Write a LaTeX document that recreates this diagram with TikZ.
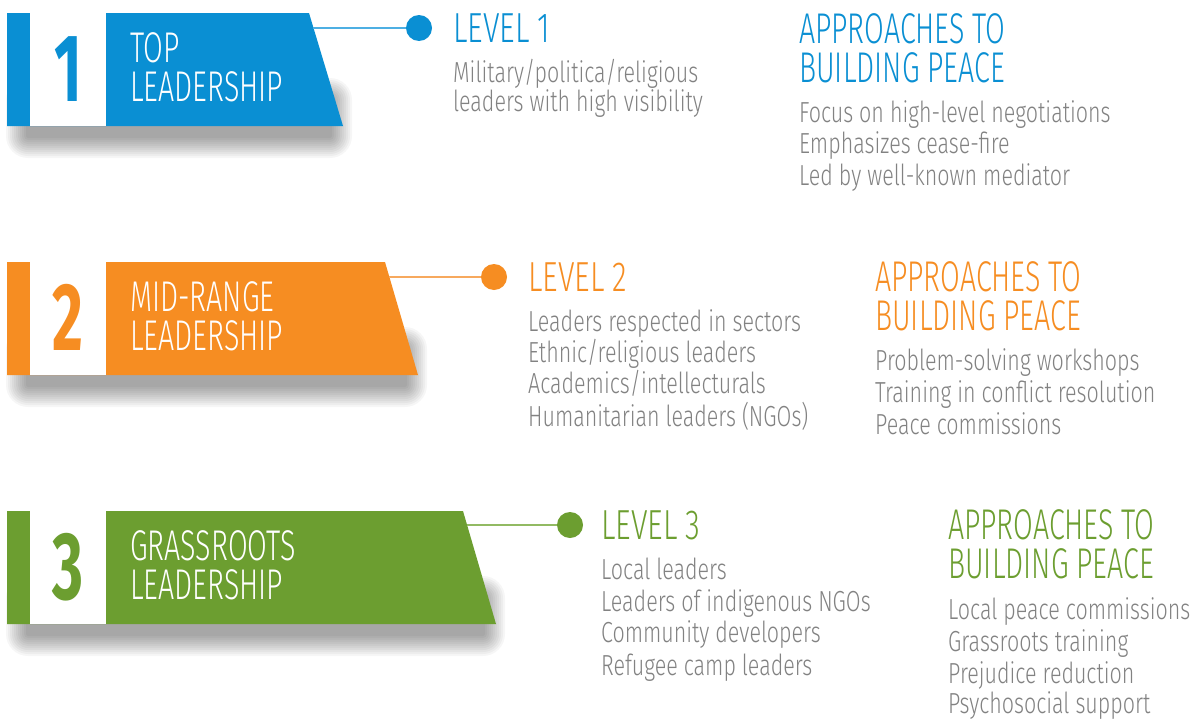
\documentclass[tikz,border=0pt]{standalone}
\usepackage{fontspec}
\setmainfont{Fira Sans Light}[FakeStretch=0.74]
\newfontfamily\capsfont{Fira Sans Light}[FakeStretch=0.665]
\newfontfamily\levelfont{Fira Sans Light}[FakeStretch=0.72]
\newfontfamily\numfont{Fira Sans}[FakeStretch=0.62]

\definecolor{topblue}{HTML}{0A8FD3}
\definecolor{toplink}{HTML}{4DAFE3}
\definecolor{midorange}{HTML}{F68D22}
\definecolor{midlink}{HTML}{F7A95E}
\definecolor{rootgreen}{HTML}{6C9E30}
\definecolor{rootlink}{HTML}{92BA63}
\definecolor{bodygrey}{HTML}{828282}

\begin{document}
\begin{tikzpicture}[x=1pt, y=-1pt,
    haze/.style={fill=black, opacity=0.035, rounded corners=#1},
    digit/.style={anchor=base, inner sep=0, font=\numfont\bfseries\fontsize{96}{96}\selectfont},
    bantext/.style={anchor=base west, inner sep=0, text height=30pt, text depth=2pt,
        text=white, font=\capsfont\fontsize{43}{43}\selectfont},
    level/.style={anchor=base west, inner sep=0, text height=30pt, text depth=2pt,
        font=\levelfont\fontsize{42}{42}\selectfont},
    heading/.style={anchor=base west, inner sep=0, text height=31pt, text depth=6pt,
        font=\capsfont\fontsize{43}{43}\selectfont},
    item/.style={anchor=base west, inner sep=0, text height=20pt, text depth=5pt,
        text=bodygrey, font=\fontsize{29}{29}\selectfont},
    dot/.style={circle, inner sep=0, minimum size=26pt},
    link/.style={line width=2pt}]
    \fill[white] (0,0) rectangle (1201,720);

    % soft shadows under the banners
    \foreach \r in {2,4,...,22} {
        \fill[haze=\r] (28-\r,100-\r) rectangle (330+\r,136+\r);
        \fill[haze=\r] (28-\r,349-\r) rectangle (405+\r,385+\r);
        \fill[haze=\r] (28-\r,598-\r) rectangle (483+\r,634+\r);
    }

    % top leadership
    \fill[topblue] (7,13) -- (309,13) -- (343,126) -- (7,126) -- cycle;
    \fill[white] (30,13) rectangle (106,126);
    \node[digit, text=topblue] (n1) at (68,101) {1};
    \node[bantext] (t1a) at (130,62) {TOP};
    \node[bantext] (t1b) at (130,101) {LEADERSHIP};
    \coordinate (e1) at (313,28);
    \node[dot, fill=topblue] (d1) at (419,28) {};
    \draw[link, toplink] (e1) -- (d1);
    \node[level, text=topblue] (l1) at (453,42) {LEVEL 1};
    \node[item, text height=, text depth=, font=\fontsize{29}{27}\selectfont] (l1a) at (453,82)
        {\begin{tabular}[t]{@{}l@{}}Military/politica/religious\\leaders with high visibility\end{tabular}};
    \node[heading, text=topblue] (a1) at (799,43) {APPROACHES TO};
    \node[heading, text=topblue] (a1b) at (799,82) {BUILDING PEACE};
    \node[item] (a1c) at (799,122) {Focus on high-level negotiations};
    \node[item] (a1d) at (799,153) {Emphasizes cease-fire};
    \node[item] (a1e) at (799,185) {Led by well-known mediator};

    % mid-range leadership
    \fill[midorange] (7,262) -- (385,262) -- (418,375) -- (7,375) -- cycle;
    \fill[white] (30,262) rectangle (106,375);
    \node[digit, text=midorange] (n2) at (68,350) {2};
    \node[bantext] (t2a) at (130,311) {MID-RANGE};
    \node[bantext] (t2b) at (130,350) {LEADERSHIP};
    \coordinate (e2) at (389,277);
    \node[dot, fill=midorange] (d2) at (494,277) {};
    \draw[link, midlink] (e2) -- (d2);
    \node[level, text=midorange] (l2) at (528,291) {LEVEL 2};
    \node[item] (l2a) at (528,331) {Leaders respected in sectors};
    \node[item] (l2b) at (528,362) {Ethnic/religious leaders};
    \node[item] (l2c) at (528,393) {Academics/intellecturals};
    \node[item] (l2d) at (528,426) {Humanitarian leaders (NGOs)};
    \node[heading, text=midorange] (a2) at (875,291) {APPROACHES TO};
    \node[heading, text=midorange] (a2b) at (875,330) {BUILDING PEACE};
    \node[item] (a2c) at (875,370) {Problem-solving workshops};
    \node[item] (a2d) at (875,402) {Training in conflict resolution};
    \node[item] (a2e) at (875,434) {Peace commissions};

    % grassroots leadership
    \fill[rootgreen] (7,511) -- (463,511) -- (496,624) -- (7,624) -- cycle;
    \fill[white] (30,511) rectangle (106,624);
    \node[digit, text=rootgreen] (n3) at (68,599) {3};
    \node[bantext] (t3a) at (130,560) {GRASSROOTS};
    \node[bantext] (t3b) at (130,599) {LEADERSHIP};
    \coordinate (e3) at (467,525);
    \node[dot, fill=rootgreen] (d3) at (570,525) {};
    \draw[link, rootlink] (e3) -- (d3);
    \node[level, text=rootgreen] (l3) at (601,539) {LEVEL 3};
    \node[item] (l3a) at (601,579) {Local leaders};
    \node[item] (l3b) at (601,611) {Leaders of indigenous NGOs};
    \node[item] (l3c) at (601,642) {Community developers};
    \node[item] (l3d) at (601,675) {Refugee camp leaders};
    \node[heading, text=rootgreen] (a3) at (948,539) {APPROACHES TO};
    \node[heading, text=rootgreen] (a3b) at (948,578) {BUILDING PEACE};
    \node[item] (a3c) at (948,619) {Local peace commissions};
    \node[item] (a3d) at (948,651) {Grassroots training};
    \node[item] (a3e) at (948,683) {Prejudice reduction};
    \node[item] (a3f) at (948,713) {Psychosocial support};
\end{tikzpicture}
\end{document}
